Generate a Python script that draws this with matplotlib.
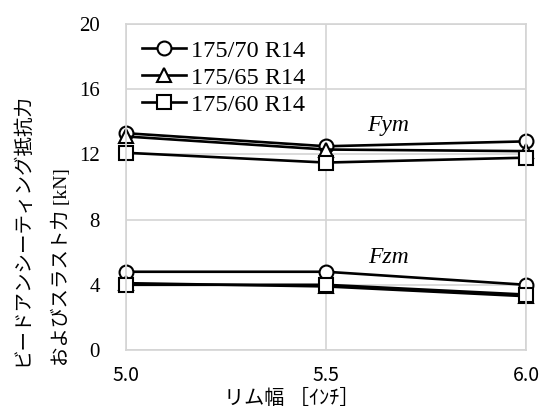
import matplotlib
matplotlib.use("Agg")
import matplotlib.pyplot as plt

# rim width [inch]
rim_width = [5.0, 5.5, 6.0]
tire_sizes = ["175/70 R14", "175/65 R14", "175/60 R14"]
markers = ["o", "^", "s"]

# bead unseating resistance Fym [kN]
fym_70 = [13.3, 12.5, 12.8]
fym_65 = [13.1, 12.3, 12.2]
fym_60 = [12.1, 11.5, 11.8]

# thrust force Fzm [kN]
fzm_70 = [4.8, 4.8, 4.0]
fzm_65 = [4.1, 3.9, 3.3]
fzm_60 = [4.0, 4.0, 3.4]

yticks = [0, 4, 8, 12, 16, 20]
xticks = [5.0, 5.5, 6.0]

serif_jp = ["Liberation Serif", "Noto Sans CJK JP"]
sans_jp = ["Noto Sans CJK JP", "DejaVu Sans"]

fig = plt.figure(figsize=(5.39, 4.12), dpi=100)
ax = fig.add_axes([0.234, 0.1505, 0.742, 0.7912])

fym = [fym_70, fym_65, fym_60]
fzm = [fzm_70, fzm_65, fzm_60]
for label, mk, ys in zip(tire_sizes, markers, fym):
    ax.plot(rim_width, ys, marker=mk, color="black", lw=1.9, ms=10,
            mfc="white", mec="black", mew=1.5, label=label, clip_on=False)
for mk, ys in zip(markers, fzm):
    ax.plot(rim_width, ys, marker=mk, color="black", lw=1.9, ms=10,
            mfc="white", mec="black", mew=1.5, clip_on=False)

ax.set_xlim(5.0, 6.0)
ax.set_ylim(0, 20)
ax.set_xticks(xticks)
ax.set_xticklabels([f"{v:.1f}" for v in xticks], family=sans_jp, fontsize=14)
ax.set_yticks(yticks)
ax.set_yticklabels([str(v) for v in yticks], family=serif_jp, fontsize=15)
ax.tick_params(axis="y", length=0, pad=19)
ax.tick_params(axis="x", length=0, pad=11)
ax.grid(True, color="#d4d4d4", lw=1.2)
ax.set_axisbelow(True)
for s in ax.spines.values():
    s.set_color("#d4d4d4")
    s.set_linewidth(1.2)

ax.text(5.655, 13.8, "Fym", style="italic", family="Liberation Serif",
        fontsize=17, ha="center", va="center")
ax.text(5.655, 5.7, "Fzm", style="italic", family="Liberation Serif",
        fontsize=17, ha="center", va="center")

fig.text(292 / 539, 1 - 399 / 412, "リム幅 ［ｲﾝﾁ］", family=sans_jp,
         fontsize=14.5, ha="center", va="center")
fig.text(42 / 539, 1 - 366 / 412, "ビードアンシーティング抵抗力\nおよびスラスト力 [kN]",
         family=serif_jp, fontsize=14, rotation=90, ha="center",
         va="bottom", multialignment="left", linespacing=2.3)

leg = ax.legend(loc="upper left", bbox_to_anchor=(0.0, 1.0), frameon=False,
                prop={"family": "Liberation Serif", "size": 17.5},
                handlelength=1.8, handletextpad=0.2, labelspacing=0.2,
                borderaxespad=0.25)

fig.savefig("out.png", dpi=100)
